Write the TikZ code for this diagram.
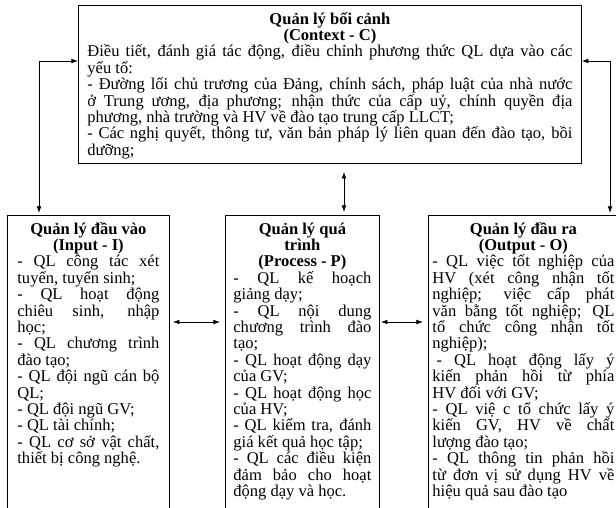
\documentclass[tikz,border=0pt]{standalone}
\usepackage{fontspec}
\setmainfont{Liberation Serif}
\usetikzlibrary{calc,arrows,arrows.meta,positioning}
\tolerance=9999
\hyphenpenalty=10000
\exhyphenpenalty=10000
\newcommand{\boxhead}[1]{{\centering\bfseries #1\par}}
\tikzset{
    block/.style = {draw, rectangle, anchor=north west, align=justify,
        inner ysep=2pt, line width=0.6pt, text height=12pt,
        font=\fontsize{12.4}{12.3}\selectfont},
    ctxbox/.style = {block, text width=363.75pt, inner xsep=6.75pt,
        text depth=102.5pt},
    colbox/.style = {block, text depth=250pt},
    arrow/.style={draw, <->, line width=0.6pt}
}

\begin{document}
\begin{tikzpicture}[x=0.75pt, y=-0.75pt, >={Latex[length=5pt,width=3.6pt]}]
  \path[use as bounding box, clip] (0,0) rectangle (616,507);
  \node[ctxbox] (ctx) at (78,5) {%
    \boxhead{Quản lý bối cảnh\\(Context - C)}
    Điều tiết, đánh giá tác động, điều chỉnh phương thức QL dựa vào các\linebreak yếu tố:\par
    - Đường lối chủ trương của Đảng, chính sách, pháp luật của nhà nước\linebreak ở Trung ương, địa phương; nhận thức của cấp uỷ, chính quyền địa\linebreak phương, nhà trường và HV về đào tạo trung cấp LLCT;\par
    - Các nghị quyết, thông tư, văn bản pháp lý liên quan đến đào tạo, bồi\linebreak dưỡng;};
  \node[colbox, text width=106.5pt, inner xsep=7.5pt] (inp) at (7,215) {%
    \boxhead{Quản lý đầu vào\\(Input - I)}
    - QL công tác xét\linebreak tuyển, tuyển sinh;\par
    - QL hoạt động\linebreak chiêu sinh, nhập\linebreak học;\par
    - QL chương trình\linebreak đào tạo;\par
    - QL đội ngũ cán bộ\linebreak QL;\par
    - QL đội ngũ GV;\par
    - QL tài chính;\par
    - QL cơ sở vật chất,\linebreak thiết bị công nghệ.};
  \node[colbox, text width=103.5pt, inner xsep=6pt] (proc) at (225,215) {%
    \boxhead{Quản lý quá\\trình\\(Process - P)}
    - QL kế hoạch\linebreak giảng dạy;\par
    - QL nội dung\linebreak chương trình đào\linebreak tạo;\par
    - QL hoạt động dạy\linebreak của GV;\par
    - QL hoạt động học\linebreak của HV;\par
    - QL kiểm tra, đánh\linebreak giá kết quả học tập;\par
    - QL các điều kiện\linebreak đảm bảo cho hoạt\linebreak động dạy và học.};
  \node[colbox, text width=136.5pt, inner xsep=3pt] (outp) at (428,215) {%
    \boxhead{Quản lý đầu ra\\(Output - O)}
    - QL việc tốt nghiệp của\linebreak HV (xét công nhận tốt\linebreak nghiệp; việc cấp phát\linebreak văn bằng tốt nghiệp; QL\linebreak tổ chức công nhận tốt\linebreak nghiệp);\par
    \hspace*{0.25em}- QL hoạt động lấy ý\linebreak kiến phản hồi từ phía\linebreak HV đối với GV;\par
    - QL việ c tổ chức lấy ý\linebreak kiến GV, HV về chất\linebreak lượng đào tạo;\par
    - QL thông tin phản hồi\linebreak từ đơn vị sử dụng HV về\linebreak hiệu quả sau đào tạo};

  % connectors
  \coordinate (lft) at (39,61);
  \coordinate (rgt) at (610,61);
  \coordinate (mid) at (344,0);
  \coordinate (hrz) at (0,322);
  \draw[arrow, shorten >=1.5pt] (ctx.west |- lft) -| (inp.north -| lft);
  \draw[arrow, shorten >=1.5pt] (ctx.east |- rgt) -| (outp.north -| rgt);
  \draw[arrow, shorten <=6pt, shorten >=2.25pt] (ctx.south -| mid) -- (proc.north -| mid);
  \draw[arrow, shorten <=2.25pt, shorten >=3.75pt] (inp.east |- hrz) -- (proc.west |- hrz);
  \draw[arrow, shorten <=0.75pt, shorten >=3.75pt] (proc.east |- hrz) -- (outp.west |- hrz);
\end{tikzpicture}
\end{document}
